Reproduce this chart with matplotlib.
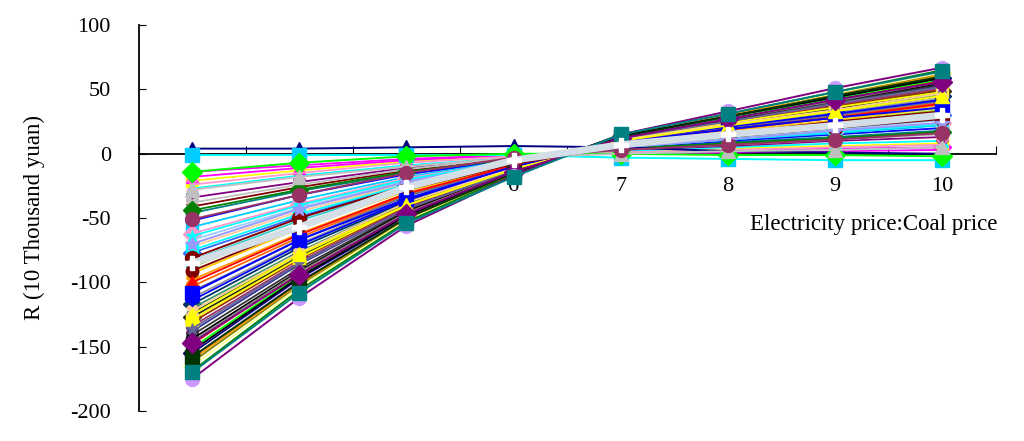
import matplotlib
matplotlib.use("Agg")
import matplotlib.pyplot as plt

plt.rcParams["font.family"] = ["Liberation Serif", "DejaVu Serif"]
plt.rcParams["axes.unicode_minus"] = False

# Electricity price : coal price ratio (categories)
ratio = [3, 4, 5, 6, 7, 8, 9, 10]

# thin series in the background (R, 10 thousand yuan)
filler_r = [
    [-14, -9, -4, -1, 1, 3, 4, 5],
    [-21, -13, -6, -2, 2, 4, 6, 8],
    [-27, -17, -9, -3, 2, 5, 8, 10],
    [-34, -22, -11, -3, 3, 6, 10, 13],
    [-41, -26, -13, -4, 4, 8, 12, 16],
    [-46, -29, -15, -4, 4, 9, 13, 18],
    [-52, -32, -16, -5, 5, 10, 15, 20],
    [-57, -36, -18, -5, 5, 11, 16, 22],
    [-62, -39, -19, -6, 5, 12, 18, 24],
    [-67, -42, -21, -6, 6, 12, 19, 26],
    [-72, -45, -23, -7, 6, 13, 21, 28],
    [-77, -49, -24, -7, 7, 14, 22, 30],
    [-83, -52, -26, -8, 7, 15, 24, 32],
    [-88, -55, -28, -8, 8, 16, 25, 34],
    [-93, -58, -29, -9, 8, 17, 26, 36],
    [-98, -62, -31, -9, 9, 18, 28, 38],
    [-103, -65, -32, -10, 9, 19, 29, 40],
    [-107, -67, -33, -10, 9, 20, 30, 41],
    [-112, -70, -35, -10, 10, 21, 32, 43],
    [-117, -73, -37, -11, 10, 22, 33, 45],
    [-120, -76, -38, -11, 11, 22, 34, 46],
    [-124, -78, -39, -12, 11, 23, 35, 48],
    [-127, -80, -40, -12, 11, 24, 36, 49],
    [-131, -82, -41, -12, 11, 24, 37, 50],
    [-134, -84, -42, -12, 12, 25, 38, 51],
    [-138, -86, -43, -13, 12, 26, 39, 53],
    [-141, -89, -44, -13, 12, 26, 40, 54],
    [-144, -91, -45, -13, 13, 27, 41, 55],
    [-148, -93, -46, -14, 13, 28, 42, 57],
    [-151, -95, -48, -14, 13, 28, 43, 58],
    [-155, -97, -49, -14, 14, 29, 44, 59],
    [-158, -99, -50, -15, 14, 29, 45, 61],
    [-162, -102, -51, -15, 14, 30, 46, 62],
    [-165, -104, -52, -15, 14, 31, 47, 63],
    [-169, -106, -53, -16, 15, 31, 48, 65],
    [-18, -11, -5, -1, 0, 1, 2, 3],
    [-38, -24, -12, -3, 3, 7, 11, 15],
    [-64, -40, -20, -6, 5, 11, 17, 23],
    [-91, -57, -28, -8, 8, 16, 25, 33],
    [-114, -71, -36, -11, 10, 21, 31, 42],
    [-129, -81, -40, -12, 11, 24, 36, 48],
    [-146, -92, -46, -14, 13, 27, 41, 56],
    [-160, -101, -50, -15, 14, 30, 45, 61],
    [-24, -15, -7, -2, 1, 3, 5, 7],
    [-44, -28, -14, -4, 4, 8, 12, 17],
    [-75, -47, -24, -7, 6, 13, 20, 27],
    [-100, -63, -31, -9, 9, 19, 28, 39],
    [-122, -77, -38, -11, 11, 23, 34, 47],
    [-136, -85, -43, -13, 12, 25, 39, 52],
    [-153, -96, -48, -14, 14, 29, 44, 59],
]
filler_colors = [
    "#FF00FF", "#FFFF00", "#00FFFF", "#800080", "#800000", "#008080",
    "#0000FF", "#00CCFF", "#FF99CC", "#99CCFF", "#FFCC99", "#3366FF",
    "#33CCCC", "#99CC00", "#FFCC00", "#FF9900", "#FF6600", "#666699",
    "#969696", "#003366", "#339966", "#003300", "#333300", "#993300",
    "#993366", "#333399", "#333333", "#000000", "#FF0000", "#00FF00",
    "#000080", "#CC99FF", "#808000", "#FFFF99", "#008000", "#FF00FF",
    "#C0C0C0", "#00FFFF", "#800000", "#0000FF", "#FFFF00", "#808080",
    "#FF9900", "#FF99CC", "#008000", "#00FFFF", "#FF0000", "#FFCC99",
    "#666699", "#000000",
]
filler_markers = ["D", "s", "^", "X", "*", "o", "P", "s", "D", "^", "x"]

# series that show on top
top_r = [
    [4, 4, 5, 6, 5, 2, 1, 0],
    [-1, -1, -1, -1, -3, -4, -5, -5],
    [-14, -7, -2, 0, 0, -1, -1, -2],
    [-28, -18, -10, -3, 0, 2, 3, 5],
    [-108, -67, -35, -10, 9, 19, 28, 36],
    [-125, -78, -40, -12, 10, 22, 33, 45],
    [-81, -50, -25, -8, 6, 13, 20, 27],
    [-70, -43, -22, -6, 5, 11, 18, 24],
    [-158, -100, -50, -15, 13, 29, 45, 60],
    [-147, -94, -47, -14, 12, 27, 42, 56],
    [-175, -112, -56, -17, 15, 33, 51, 67],
    [-170, -108, -54, -18, 15, 31, 48, 64],
    [-51, -32, -15, -3, 3, 7, 11, 16],
    [-85, -57, -26, -5, 7, 15, 22, 30],
]
top_line_colors = ["#000080", "#00FFFF", "#00FF00", "#C0C0C0", "#0000FF",
                   "#FFFF00", "#800000", "#9999FF", "#003300", "#800080",
                   "#800080", "#008080", "#993366", "#D3DEE6"]
top_marker_colors = ["#000080", "#00CCFF", "#00FF00", "#C0C0C0", "#0000FF",
                     "#FFFF00", "#800000", "#9999FF", "#003300", "#800080",
                     "#CC99FF", "#008080", "#993366", "#FFFFFF"]
top_markers = ["^", "s", "D", "^", "s", "^", "o", "*", "s", "D", "o", "s", "o", "P"]
top_widths = [1.4, 1.4, 1.4, 1.4, 1.4, 1.4, 1.4, 1.4, 1.4, 1.4, 1.4, 1.4, 1.4, 5]

fig = plt.figure(figsize=(10.24, 4.41), dpi=100)
ax = fig.add_axes([0.1353, 0.068, 0.837, 0.875])

for i, vals in enumerate(filler_r):
    c = filler_colors[i % len(filler_colors)]
    ax.plot(ratio, vals, color=c, lw=1.3, marker=filler_markers[i % len(filler_markers)],
            ms=9, mfc=c, mec=c, zorder=2)

for i, vals in enumerate(top_r):
    ax.plot(ratio, vals, color=top_line_colors[i], lw=top_widths[i],
            marker=top_markers[i], ms=10, mfc=top_marker_colors[i],
            mec=top_marker_colors[i], zorder=3)

ax.set_xlim(2.5, 10.5)
ax.set_ylim(-200, 100)
ax.set_yticks(range(-200, 101, 50))
ax.tick_params(axis="y", direction="in", length=5, pad=20, labelsize=16)

ax.set_xticks([2.5 + k for k in range(9)])
ax.set_xticklabels([])
ax.set_xticks(ratio, minor=True)
ax.set_xticklabels([str(r) for r in ratio], minor=True)
ax.tick_params(axis="x", which="major", direction="in", length=6)
ax.tick_params(axis="x", which="minor", length=0, pad=17, labelsize=16)

ax.spines["top"].set_visible(False)
ax.spines["right"].set_visible(False)
ax.spines["bottom"].set_position(("data", 0))
ax.spines["bottom"].set_zorder(1)
for s in ["left", "bottom"]:
    ax.spines[s].set_linewidth(1.3)

fig.text(0.034, 0.506, "R (10 Thousand yuan)", rotation=90, ha="center",
         va="center", fontsize=16.5)
fig.text(0.974, 0.492, "Electricity price:Coal price", ha="right",
         va="center", fontsize=16.5)

fig.savefig("out.png", dpi=100)
